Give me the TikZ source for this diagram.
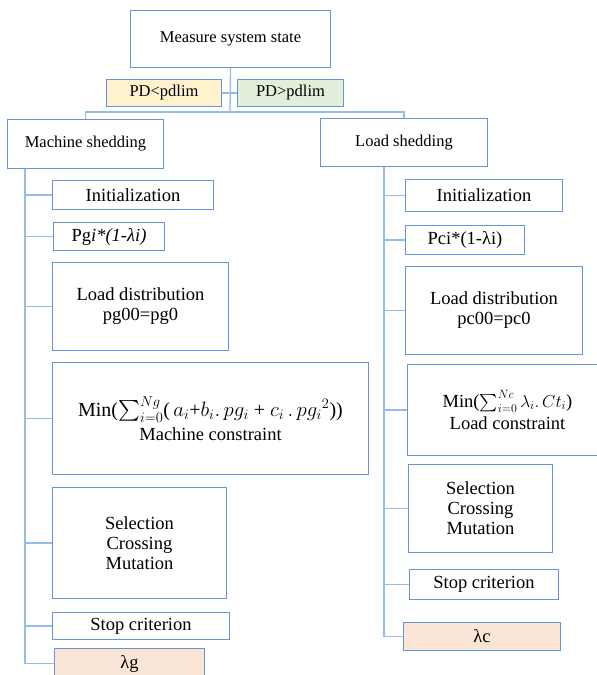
\documentclass[tikz,border=0pt]{standalone}
\usepackage{amsmath}
\usepackage{fontspec}
\setmainfont{Liberation Serif}
\usepackage{tikz}
\usetikzlibrary{positioning}
\definecolor{boxblue}{RGB}{100,148,218}
\definecolor{linkblue}{RGB}{150,188,230}
\definecolor{pdyellow}{RGB}{255,242,204}
\definecolor{pdgreen}{RGB}{226,239,218}
\definecolor{lampeach}{RGB}{251,229,214}
\begin{document}
\begin{tikzpicture}[x=1pt,y=-1pt,
    box/.style={draw=boxblue, line width=1pt, fill=white, anchor=north west,
      align=center, inner sep=1pt, font=\fontsize{18.5}{20}\selectfont},
    headbox/.style={box, font=\fontsize{16.5}{19}\selectfont},
    link/.style={draw=linkblue, line width=1.3pt}]

\useasboundingbox (0,0) rectangle (597,675);
\clip (0,0) rectangle (597,675);

\node[headbox, minimum width=200pt, minimum height=57pt] (state) at (130,10) {Measure system state};
\node[headbox, fill=pdyellow, minimum width=115pt, minimum height=27pt] (pdlow) at (106,79) {PD<pdlim};
\node[headbox, fill=pdgreen, minimum width=106pt, minimum height=27pt] (pdhigh) at (237,79) {PD>pdlim};
\node[headbox, minimum width=156pt, minimum height=49pt] (mach) at (7,119) {Machine shedding};
\node[headbox, minimum width=167pt, minimum height=48pt] (load) at (320,118) {Load shedding};

% machine side
\node[box, minimum width=161pt, minimum height=29pt] (ginit) at (52,180) {Initialization};
\node[box, minimum width=111pt, minimum height=28pt] (gpi) at (53,222) {Pg\textit{i*(1-λi)}};
\node[box, minimum width=176pt, minimum height=88pt] (gdist) at (52,262) {Load distribution\\pg00=pg0};
\node[box, minimum width=316pt, minimum height=112pt] (gmin) at (52,362)
  {{\fontsize{20}{22}\selectfont Min($\sum_{i=0}^{Ng}$(\,$a_i$+$b_i.\,pg_i$ + $c_i\,.\,pg_i{}^2$))}\\[4pt]Machine constraint};
\node[box, minimum width=174pt, minimum height=111pt] (gsel) at (52,487) {Selection\\Crossing\\Mutation};
\node[box, minimum width=177pt, minimum height=27pt] (gstop) at (52,612) {Stop criterion};
\node[box, fill=lampeach, minimum width=150pt, minimum height=30pt] (glam) at (54,648) {λg};

% load side
\node[box, minimum width=157pt, minimum height=32pt] (cinit) at (405,179) {Initialization};
\node[box, minimum width=119pt, minimum height=29pt] (cpi) at (405,225) {Pci*(1-λi)};
\node[box, minimum width=177pt, minimum height=88pt] (cdist) at (405,266) {Load distribution\\pc00=pc0};
\node[box, minimum width=200pt, minimum height=91pt] (cmin) at (407,364)
  {Min($\sum_{i=0}^{Nc}\lambda_i.\,Ct_i$)\\[2pt]Load constraint};
\node[box, minimum width=144pt, minimum height=88pt] (csel) at (408,464) {Selection\\Crossing\\Mutation};
\node[box, minimum width=149pt, minimum height=30pt] (cstop) at (409,569) {Stop criterion};
\node[box, fill=lampeach, minimum width=157pt, minimum height=28pt] (clam) at (403,622) {λc};

\coordinate (split) at (230,112);
\coordinate (gtrunk) at (25,0);
\coordinate (ctrunk) at (384,0);

\draw[link] (state.south) -- (split);
\draw[link] (mach.north) |- (split) -| (load.north);
\draw[link] (pdlow.east) -- (pdhigh.west);

\draw[link] (mach.south -| gtrunk) |- (glam.west);
\foreach \n in {ginit,gpi,gdist,gmin,gsel,gstop}
  \draw[link] (\n.west -| gtrunk) -- (\n.west);

\draw[link] (load.south -| ctrunk) |- (clam.west);
\foreach \n in {cinit,cpi,cdist,cmin,csel,cstop}
  \draw[link] (\n.west -| ctrunk) -- (\n.west);

\end{tikzpicture}
\end{document}
